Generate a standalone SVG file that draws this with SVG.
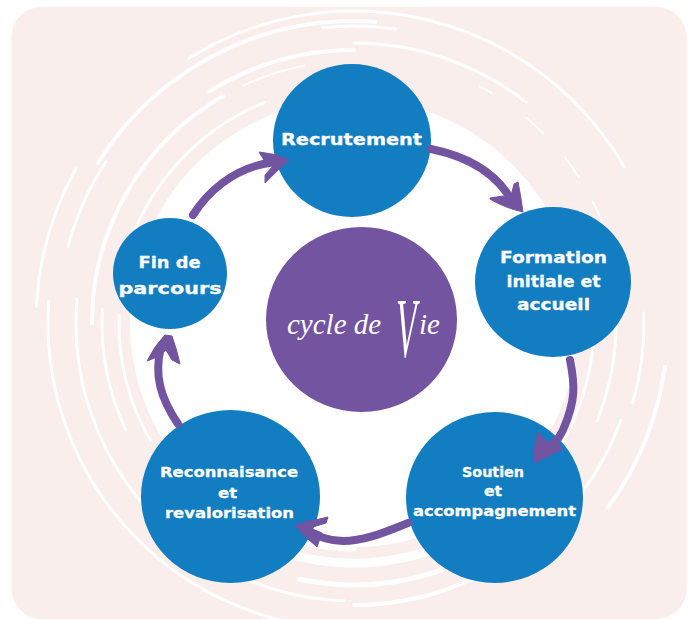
<svg xmlns="http://www.w3.org/2000/svg" width="693" height="620" viewBox="0 0 693 620">
<style>
.s{fill:none;stroke:#fff;stroke-linecap:round;stroke-opacity:.93}
.n{fill:#127dc1}
.t{fill:#fff;stroke:#fff;stroke-width:.3;font-family:"DejaVu Sans",sans-serif;font-weight:700;text-anchor:middle}
.c{fill:#fff;font-family:"Liberation Serif",serif;font-style:italic}
.a{fill:none;stroke:#7354a0;stroke-width:8;stroke-linecap:round;stroke-linejoin:round}
.h{fill:#7354a0;stroke:#7354a0;stroke-width:1;stroke-linejoin:round}
</style>
<rect width="693" height="620" fill="#fff"/>
<rect x="11.500" y="7" width="675" height="612" rx="30" fill="#f9eeec"/>
<g id="swirls" transform="translate(354 323)">
<circle r="224" fill="#fff"/>
<circle class="s" r="238" stroke-width="3" pathLength="360" stroke-dasharray="50 360" transform="rotate(198)"/>
<circle class="s" r="262" stroke-width="4" pathLength="360" stroke-dasharray="60 360" transform="rotate(180)"/>
<circle class="s" r="262" stroke-width="2" pathLength="360" stroke-dasharray="14 360" transform="rotate(245)"/>
<circle class="s" r="273" stroke-width="4" pathLength="360" stroke-dasharray="32 360" transform="rotate(238)"/>
<circle class="s" r="296" stroke-width="3" pathLength="360" stroke-dasharray="18 360" transform="rotate(195)"/>
<circle class="s" r="302" stroke-width="4" pathLength="360" stroke-dasharray="62 360" transform="rotate(212)"/>
<circle class="s" r="312" stroke-width="3" pathLength="360" stroke-dasharray="92 360" transform="rotate(238)"/>
<circle class="s" r="318" stroke-width="3" pathLength="360" stroke-dasharray="26 360" transform="rotate(183)"/>
<circle class="s" r="297" stroke-width="3" pathLength="360" stroke-dasharray="14 360" transform="rotate(264)"/>
<circle class="s" r="280" stroke-width="3" pathLength="360" stroke-dasharray="38 360" transform="rotate(270)"/>
<circle class="s" r="268" stroke-width="2" pathLength="360" stroke-dasharray="3 360" transform="rotate(298)"/>
<circle class="s" r="268" stroke-width="2" pathLength="360" stroke-dasharray="5 360" transform="rotate(310)"/>
<circle class="s" r="268" stroke-width="2" pathLength="360" stroke-dasharray="5 360" transform="rotate(322)"/>
<circle class="s" r="268" stroke-width="2" pathLength="360" stroke-dasharray="5 360" transform="rotate(333)"/>
<circle class="s" r="268" stroke-width="3" pathLength="360" stroke-dasharray="6 360" transform="rotate(342)"/>
<circle class="s" r="306" stroke-width="3" pathLength="360" stroke-dasharray="92 360" transform="rotate(92)"/>
<circle class="s" r="278" stroke-width="3" pathLength="360" stroke-dasharray="93 360" transform="rotate(92)"/>
<circle class="s" r="252" stroke-width="3" pathLength="360" stroke-dasharray="28 360" transform="rotate(155)"/>
<circle class="s" r="235" stroke-width="3" pathLength="360" stroke-dasharray="32 360" transform="rotate(150)"/>
<circle class="s" r="314" stroke-width="4" pathLength="360" stroke-dasharray="28 360" transform="rotate(8)"/>
<circle class="s" r="290" stroke-width="3" pathLength="360" stroke-dasharray="18 360" transform="rotate(358)"/>
<circle class="s" r="284" stroke-width="3" pathLength="360" stroke-dasharray="20 360" transform="rotate(20)"/>
<circle class="s" r="262" stroke-width="3" pathLength="360" stroke-dasharray="22 360" transform="rotate(0)"/>
<circle class="s" r="240" stroke-width="3" pathLength="360" stroke-dasharray="26 360" transform="rotate(4)"/>
<circle class="s" r="282" stroke-width="4" pathLength="360" stroke-dasharray="50 360" transform="rotate(40)"/>
<circle class="s" r="262" stroke-width="5" pathLength="360" stroke-dasharray="42 360" transform="rotate(60)"/>
<circle class="s" r="240" stroke-width="9" pathLength="360" stroke-dasharray="62 360" transform="rotate(45)"/>
<circle class="s" r="226" stroke-width="5" pathLength="360" stroke-dasharray="50 360" transform="rotate(90)"/>
</g>
<g id="recrutement"><ellipse class="n" cx="352" cy="140.500" rx="79" ry="76.500"/><text class="t" x="351.500" y="145" font-size="16.500" textLength="141" lengthAdjust="spacingAndGlyphs">Recrutement</text></g>
<g id="formation"><ellipse class="n" cx="553" cy="282" rx="78" ry="75"/>
<text class="t" x="553.500" y="263" font-size="16.500" textLength="107" lengthAdjust="spacingAndGlyphs">Formation</text>
<text class="t" x="553.500" y="287" font-size="16.500" textLength="94" lengthAdjust="spacingAndGlyphs">initiale et</text>
<text class="t" x="553.500" y="310" font-size="16.500" textLength="73" lengthAdjust="spacingAndGlyphs">accueil</text></g>
<g id="soutien"><ellipse class="n" cx="494.500" cy="497.500" rx="88.500" ry="85.500"/>
<text class="t" x="493" y="477" font-size="14" textLength="62" lengthAdjust="spacingAndGlyphs">Soutien</text>
<text class="t" x="493" y="496" font-size="14" textLength="18" lengthAdjust="spacingAndGlyphs">et</text>
<text class="t" x="494.500" y="516" font-size="14" textLength="163" lengthAdjust="spacingAndGlyphs">accompagnement</text></g>
<g id="reconnaissance"><ellipse class="n" cx="230.500" cy="496.500" rx="89.500" ry="86.500"/>
<text class="t" x="229" y="477" font-size="14.500" textLength="138" lengthAdjust="spacingAndGlyphs">Reconnaisance</text>
<text class="t" x="227.500" y="498" font-size="14.500" textLength="19" lengthAdjust="spacingAndGlyphs">et</text>
<text class="t" x="229.500" y="518" font-size="14.500" textLength="129" lengthAdjust="spacingAndGlyphs">revalorisation</text></g>
<g id="fin"><ellipse class="n" cx="170" cy="273.500" rx="57" ry="55.500"/>
<text class="t" x="169.500" y="268" font-size="16.500" textLength="62" lengthAdjust="spacingAndGlyphs">Fin de</text>
<text class="t" x="170" y="294" font-size="16.500" textLength="103" lengthAdjust="spacingAndGlyphs">parcours</text></g>
<g id="centre"><ellipse cx="361.500" cy="319.500" rx="95.500" ry="92.500" fill="#7354a0"/>
<text class="c" x="287" y="334" font-size="29">cycle de</text>
<text class="c" transform="translate(396 357) scale(.4 1)" font-size="84">V</text>
<text class="c" x="419" y="334" font-size="29">ie</text></g>
<g id="connectors">
<path class="a" d="M193 215C205 196 232 166 276 162"/>
<path class="h" d="M259 152Q275 153 289 160Q278 170 265 183L265 175L273 166L264 160Z"/>
<path class="a" d="M431 149C465 156 498 172 514 205"/>
<path class="h" d="M490 198L503 196L510 200L514 184L518 182Q521 197 523 212Q505 208 490 199Z"/>
<path class="a" d="M570 360C575 385 576 400 563 430C558 440 552 448 544 454"/>
<path class="h" d="M538 432L548 443L553 438L563 449Q550 455 534 463Q533 448 538 432Z"/>
<path class="a" d="M408 523C385 532 365 541 343 541C328 541 316 536 305 529"/>
<path class="h" d="M295 526L305 522Q316 520 328 517L326 523Q316 526 310 528L322 533L317 547Q305 537 295 526Z"/>
<path class="a" d="M178 424C160 397 154 375 161 347"/>
<path class="h" d="M147 361Q155 345 165 335L172 336Q177 350 180 364L172 360L166 350L157 357Z"/>
</g>
</svg>
